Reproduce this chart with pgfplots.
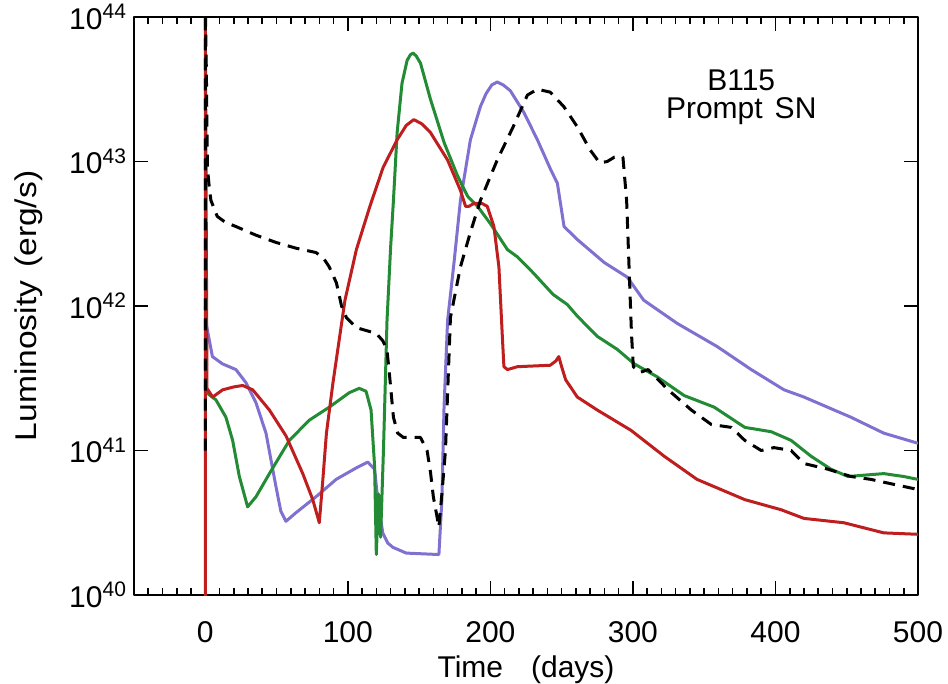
\documentclass[border=0pt]{standalone}
\usepackage{pgfplots}
\pgfplotsset{compat=1.18}
\usepackage{fontspec}
\setmainfont{Liberation Sans}
\newfontfamily\widefont[FakeStretch=1.12]{Liberation Sans}
\definecolor{cpurple}{RGB}{128,112,208}
\definecolor{cgreen}{RGB}{34,139,52}
\definecolor{cred}{RGB}{190,30,30}
\begin{document}
\begin{tikzpicture}
\begin{axis}[
  scale only axis, width=392bp, height=289bp,
  xmin=-50, xmax=500, ymin=40, ymax=44,
  xtick={0,100,...,500},
  minor xtick={-50,-40,...,500},
  ytick={40,41,42,43,44},
  yticklabels={10\textsuperscript{40},10\textsuperscript{41},10\textsuperscript{42},10\textsuperscript{43},10\textsuperscript{44}},
  major tick length=7bp, minor tick length=3.5bp,
  tick align=inside,
  axis line style={line width=1bp},
  tick style={line width=0.8bp, black},
  font=\fontsize{15bp}{18bp}\selectfont,
  ticklabel style={font=\fontsize{15bp}{18bp}\selectfont},
  /pgf/number format/assume math mode=true,
  xticklabel style={anchor=base, yshift=-23.5bp},
  xlabel={Time\hspace{14bp}(days)},
  xlabel style={at={([yshift=-41bp]axis description cs:0.5,0)}, anchor=base},
  ylabel={\widefont Luminosity\hspace{6.5bp}(erg/s)},
  ylabel style={at={([xshift=-52.5bp]axis description cs:0,0.5)}, anchor=center},
  clip=true,
  line join=round,
]
\coordinate (sw) at (rel axis cs:0,0);
% purple
\addplot[color=cpurple, line width=1.5bp] coordinates {
(0,42.0)(1,41.86)(5,41.65)(12,41.6)(21.5,41.56)(28.5,41.47)(35.6,41.33)(42.6,41.12)(49.6,40.75)(53,40.58)(56.6,40.51)(63.7,40.57)(77.7,40.68)(91.8,40.80)(106,40.88)(114,40.92)(118.8,40.87)(121,40.66)(124.5,40.43)(128,40.36)(131.6,40.33)(141,40.29)(163.9,40.28)(166,40.66)(167.5,41.3)(170,41.9)(174.5,42.3)(179,42.73)(186,43.15)(193,43.38)(197,43.47)(201,43.53)(204.8,43.55)(209,43.53)(214,43.49)(223.5,43.34)(233,43.15)(242.5,42.94)(247,42.85)(251.7,42.55)(261,42.46)(280,42.30)(296,42.20)(307.6,42.04)(331,41.88)(359,41.72)(383,41.56)(406,41.42)(420,41.37)(453,41.23)(476,41.12)(500,41.05)
};
% green
\addplot[color=cgreen, line width=1.5bp] coordinates {
(0,41.45)(1,41.40)(7.5,41.35)(14.5,41.23)(19.2,41.07)(23.9,40.82)(29.7,40.61)(35.6,40.68)(45,40.84)(59,41.07)(73,41.21)(87,41.30)(101,41.40)(108,41.43)(112.8,41.41)(116.3,41.28)(118.8,40.89)(120,40.28)(121.5,40.7)(123,40.4)(125,41.0)(127.5,41.9)(130,42.4)(132,42.73)(134.6,43.20)(138,43.54)(141.6,43.70)(144,43.74)(145.8,43.75)(148,43.73)(151,43.68)(158,43.43)(167.6,43.13)(177,42.90)(184,42.76)(191,42.69)(200,42.57)(212,42.39)(219,42.34)(230,42.23)(244,42.08)(254,42.01)(261,41.93)(275,41.79)(289,41.70)(300.9,41.60)(317,41.51)(336,41.38)(357,41.30)(378.5,41.16)(397,41.13)(411,41.07)(425,40.96)(439,40.87)(451,40.82)(463,40.83)(476,40.84)(490,40.82)(500,40.80)
};
% red
\addplot[color=cred, line width=1.5bp] coordinates {
(0,39.9)(0,44.1)(0.5,43.0)(1.2,41.43)(5.2,41.37)(12.2,41.42)(20,41.44)(26.2,41.45)(33.3,41.42)(45,41.28)(56.7,41.10)(68.4,40.84)(75.4,40.66)(80,40.50)(82.5,40.8)(85,41.12)(89.6,41.47)(98,42.04)(106,42.39)(115.5,42.69)(124.8,42.96)(134.6,43.15)(141,43.25)(146.3,43.29)(152,43.26)(158,43.20)(170,43.01)(179,42.80)(182.6,42.69)(185,42.69)(188.5,42.71)(194,42.71)(197.8,42.69)(202.5,42.55)(206,42.27)(208.3,41.81)(209.5,41.58)(212,41.56)(219,41.58)(242,41.59)(246,41.62)(248,41.65)(250,41.58)(252.8,41.49)(261,41.37)(275,41.28)(298.6,41.14)(322,40.96)(345,40.80)(378.5,40.66)(404,40.59)(420,40.53)(448,40.50)(476,40.43)(500,40.42)
};
% black dashed
\addplot[color=black, line width=1.5bp, dash pattern=on 6bp off 4bp] coordinates {
(0,41.0)(0,44.1)(0.8,43.6)(1.5,42.96)(3,42.8)(4,42.73)(8.4,42.62)(14,42.58)(21.5,42.55)(35.6,42.49)(49.6,42.44)(63.7,42.40)(77.7,42.37)(83,42.33)(87,42.27)(92,42.16)(95.6,42.0)(99,41.92)(106,41.85)(120,41.81)(124.5,41.76)(127.4,41.70)(129,41.55)(132,41.23)(135,41.12)(139,41.09)(151,41.09)(155.6,41.0)(158,40.85)(160,40.68)(163.9,40.47)(166,40.7)(168.5,41.0)(172,41.92)(179,42.27)(186,42.51)(193,42.73)(204.8,43.01)(216,43.24)(226,43.46)(233,43.50)(242,43.48)(251.5,43.38)(261,43.24)(270,43.08)(276.7,42.99)(282,43.0)(287,43.03)(293,43.03)(295.6,42.73)(299,41.81)(300.3,41.58)(304.8,41.54)(310.7,41.56)(324.7,41.42)(341,41.28)(355,41.18)(369,41.16)(378.5,41.07)(390,41.0)(399,41.02)(411,41.0)(420,40.91)(437,40.87)(453,40.82)(467,40.80)(481,40.77)(500,40.73)
};
\node[anchor=base, inner sep=0pt, font=\fontsize{15bp}{18bp}\selectfont] at (axis cs:376,43.488) {B115};
\node[anchor=base, inner sep=0pt, font=\fontsize{15bp}{18bp}\selectfont] at (axis cs:376,43.300) {Prompt\hspace{6bp}SN};
\end{axis}
\pgfresetboundingbox
\path ([shift={(-67bp,-44.5bp)}]sw) rectangle ([shift={(407bp,297.5bp)}]sw);
\end{tikzpicture}
\end{document}
